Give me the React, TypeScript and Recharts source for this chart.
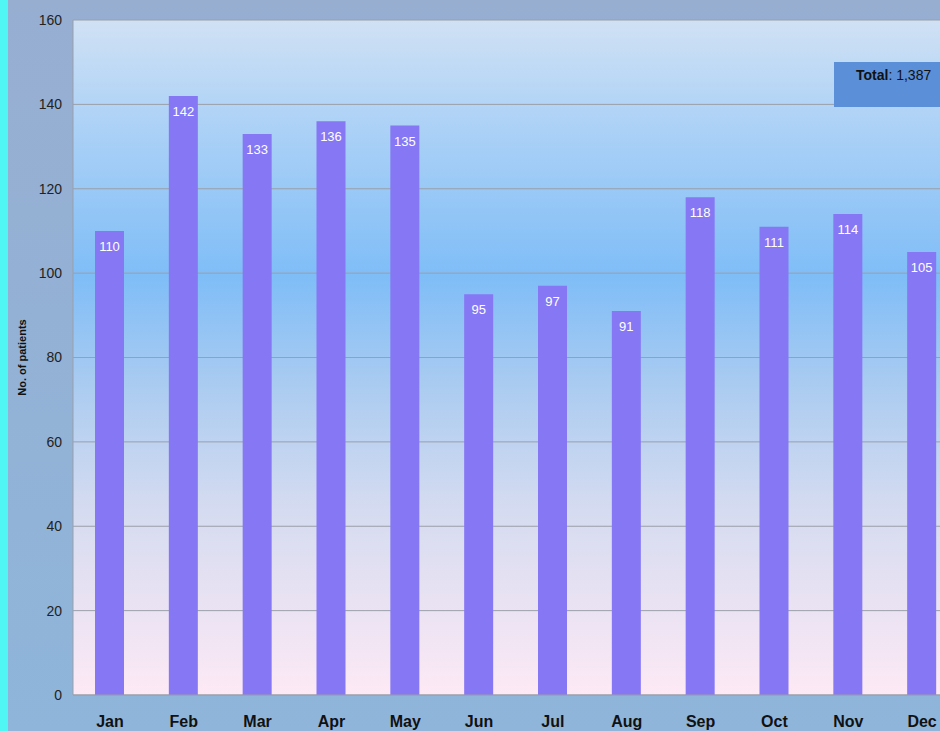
import React from 'react';
import { BarChart, Bar, XAxis, YAxis, CartesianGrid, LabelList } from 'recharts';

const months = ['Jan', 'Feb', 'Mar', 'Apr', 'May', 'Jun', 'Jul', 'Aug', 'Sep', 'Oct', 'Nov', 'Dec'];
const patients = [110, 142, 133, 136, 135, 95, 97, 91, 118, 111, 114, 105];
const yTicks = [0, 20, 40, 60, 80, 100, 120, 140, 160];

const data = months.map((m, i) => ({ month: m, patients: patients[i] }));
const total = patients.reduce((a, b) => a + b, 0);

const FONT = 'Arial, "Liberation Sans", sans-serif';

// rotated axis title, centred on the plot
const YTitle = ({ viewBox }: any) => {
  const cy = viewBox.y + viewBox.height / 2;
  return (
    <text
      x={26}
      y={cy}
      transform={`rotate(-90, 26, ${cy})`}
      textAnchor="middle"
      fontSize={11}
      fontWeight={700}
      fill="#111"
      fontFamily={FONT}
    >
      No. of patients
    </text>
  );
};

export default function App() {
  return (
    <div
      style={{
        position: 'fixed',
        left: 0,
        top: 0,
        width: 940,
        height: 731,
        overflow: 'hidden',
        background: 'linear-gradient(#97aed1, #8fb5da)',
        fontFamily: FONT,
      }}
    >
      <div style={{ position: 'absolute', left: 0, top: 0, width: 8, height: 731, background: '#4ff6f4' }} />
      <BarChart
        width={990}
        height={731}
        data={data}
        margin={{ top: 20, right: 31, bottom: 0, left: 0 }}
        barCategoryGap={0}
      >
        <defs>
          <linearGradient id="plotBg" x1="0" y1="0" x2="0" y2="1">
            <stop offset="0%" stopColor="#d0e1f4" />
            <stop offset="12%" stopColor="#b4d5f6" />
            <stop offset="38%" stopColor="#7fbdf7" />
            <stop offset="56%" stopColor="#afcdf0" />
            <stop offset="72%" stopColor="#d4dbf0" />
            <stop offset="100%" stopColor="#fde9f5" />
          </linearGradient>
        </defs>
        <CartesianGrid vertical={false} stroke="#9a9fa8" fill="url(#plotBg)" fillOpacity={1} />
        <XAxis
          dataKey="month"
          height={36}
          tickLine={false}
          tickSize={0}
          tickMargin={21}
          axisLine={{ stroke: '#9a9fa8' }}
          tick={{ fontSize: 16, fontWeight: 700, fill: '#111', fontFamily: FONT }}
        />
        <YAxis
          width={73}
          domain={[0, 160]}
          ticks={yTicks}
          tickLine={false}
          tickSize={0}
          tickMargin={11}
          axisLine={{ stroke: '#9a9fa8' }}
          tick={{ fontSize: 14, fill: '#222', fontFamily: FONT }}
          label={<YTitle />}
        />
        <Bar dataKey="patients" fill="#8677f4" barSize={29} isAnimationActive={false}>
          <LabelList
            dataKey="patients"
            position="insideTop"
            offset={11}
            fill="#ffffff"
            fontSize={13}
            fontFamily={FONT}
          />
        </Bar>
      </BarChart>
      <div
        style={{
          position: 'absolute',
          left: 834,
          top: 62,
          width: 120,
          height: 45,
          background: '#5b8fd7',
          boxSizing: 'border-box',
          paddingLeft: 22,
          paddingTop: 5,
          fontSize: 14,
          color: '#111',
        }}
      >
        <b>Total</b>: {total.toLocaleString('en-US')}
      </div>
    </div>
  );
}
